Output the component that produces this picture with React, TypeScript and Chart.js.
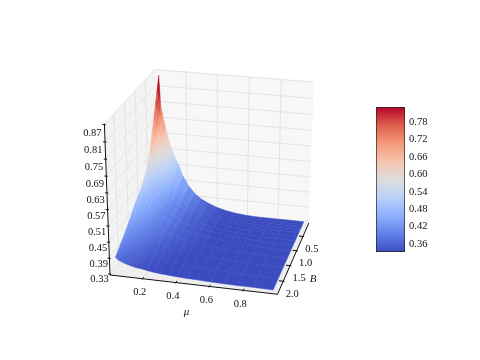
import React, { useEffect, useRef } from "react";
import { Chart, registerables } from "chart.js";

Chart.register(...registerables);

// Axis ticks
const muTicks = [0.2, 0.4, 0.6, 0.8];
const bTicks = [0.5, 1.0, 1.5, 2.0];
const zTicks = [0.33, 0.39, 0.45, 0.51, 0.57, 0.63, 0.69, 0.75, 0.81, 0.87];
const colorbarTicks = [0.36, 0.42, 0.48, 0.54, 0.6, 0.66, 0.72, 0.78];

// Surface samples
const muValues = [0.03, 0.04, 0.05, 0.07, 0.09, 0.105, 0.12, 0.135, 0.15, 0.18, 0.22, 0.26, 0.3, 0.35, 0.4, 0.46, 0.52, 0.6, 0.68, 0.76, 0.85, 0.97];
const bValues = [0.05, 0.15, 0.25, 0.35, 0.45, 0.6, 0.75, 0.9, 1.1, 1.35, 1.65, 2.0, 2.35];
const zRows = [
  [0.854, 0.735, 0.705, 0.65, 0.605, 0.579, 0.555, 0.535, 0.515, 0.47, 0.43, 0.403, 0.385, 0.37, 0.358, 0.348, 0.342, 0.337, 0.335, 0.335, 0.335, 0.335],
  [0.805, 0.703, 0.675, 0.626, 0.585, 0.562, 0.54, 0.522, 0.503, 0.465, 0.429, 0.403, 0.386, 0.372, 0.361, 0.351, 0.345, 0.339, 0.336, 0.336, 0.335, 0.335],
  [0.76, 0.673, 0.647, 0.604, 0.566, 0.545, 0.526, 0.508, 0.491, 0.459, 0.427, 0.403, 0.386, 0.373, 0.363, 0.353, 0.347, 0.341, 0.338, 0.337, 0.336, 0.335],
  [0.712, 0.64, 0.616, 0.578, 0.545, 0.527, 0.509, 0.493, 0.478, 0.451, 0.423, 0.4, 0.385, 0.373, 0.364, 0.354, 0.349, 0.342, 0.338, 0.337, 0.336, 0.335],
  [0.668, 0.609, 0.587, 0.553, 0.524, 0.508, 0.493, 0.479, 0.464, 0.443, 0.418, 0.397, 0.384, 0.372, 0.364, 0.355, 0.35, 0.342, 0.339, 0.338, 0.336, 0.335],
  [0.605, 0.562, 0.543, 0.517, 0.493, 0.481, 0.468, 0.456, 0.444, 0.429, 0.409, 0.391, 0.379, 0.37, 0.363, 0.354, 0.35, 0.343, 0.34, 0.338, 0.337, 0.335],
  [0.56, 0.529, 0.512, 0.491, 0.471, 0.461, 0.45, 0.44, 0.429, 0.419, 0.403, 0.386, 0.376, 0.368, 0.362, 0.354, 0.35, 0.343, 0.34, 0.338, 0.337, 0.335],
  [0.535, 0.511, 0.496, 0.477, 0.459, 0.45, 0.441, 0.432, 0.422, 0.414, 0.4, 0.385, 0.375, 0.368, 0.362, 0.354, 0.351, 0.344, 0.34, 0.338, 0.337, 0.335],
  [0.512, 0.494, 0.48, 0.464, 0.448, 0.44, 0.432, 0.424, 0.415, 0.409, 0.397, 0.383, 0.374, 0.367, 0.362, 0.354, 0.351, 0.344, 0.34, 0.339, 0.337, 0.335],
  [0.49, 0.475, 0.462, 0.448, 0.434, 0.427, 0.42, 0.413, 0.405, 0.4, 0.389, 0.377, 0.369, 0.363, 0.358, 0.352, 0.349, 0.343, 0.34, 0.338, 0.337, 0.335],
  [0.455, 0.443, 0.433, 0.423, 0.412, 0.406, 0.401, 0.395, 0.389, 0.385, 0.377, 0.367, 0.361, 0.357, 0.353, 0.348, 0.346, 0.341, 0.339, 0.337, 0.336, 0.335],
  [0.42, 0.412, 0.405, 0.397, 0.389, 0.386, 0.382, 0.378, 0.373, 0.371, 0.365, 0.358, 0.354, 0.35, 0.348, 0.344, 0.343, 0.339, 0.338, 0.337, 0.336, 0.335],
  [0.39, 0.385, 0.38, 0.375, 0.37, 0.368, 0.365, 0.363, 0.36, 0.358, 0.354, 0.35, 0.347, 0.345, 0.343, 0.341, 0.34, 0.338, 0.337, 0.336, 0.336, 0.335],
];

// Axis limits and colour limits
const muLimits = [0, 1];
const bLimits = [0, 2.4];
const zLimits = [0.327, 0.873];
const colorLimits = [0.3325, 0.832];
const surfaceColorLimits = [0.352, 0.8];

// Coolwarm palette
const palette = [
  [59, 76, 192], [98, 130, 234], [141, 176, 254], [186, 208, 249], [221, 221, 221],
  [245, 196, 173], [244, 152, 122], [222, 96, 77], [180, 4, 38],
];

const SERIF = '"Liberation Serif", serif';
const ELEV = (24 * Math.PI) / 180;
const AZIM = (-76 * Math.PI) / 180;
const DIST = 8;
const SX = 168;
const SY = 160;
const CX = 213.5;
const CY = 176.6;

function project(u: number, v: number, w: number) {
  const X = u - 0.5, Y = 0.5 - v, Z = w - 0.5;
  const ce = Math.cos(ELEV), se = Math.sin(ELEV), ca = Math.cos(AZIM), sa = Math.sin(AZIM);
  const xv = -sa * X + ca * Y;
  const yv = -se * ca * X - se * sa * Y + ce * Z;
  const zv = ce * ca * X + ce * sa * Y + se * Z;
  const f = DIST / (DIST - zv);
  return { x: CX + SX * xv * f, y: CY - SY * yv * f };
}
const U = (mu: number) => (mu - muLimits[0]) / (muLimits[1] - muLimits[0]);
const V = (b: number) => (b - bLimits[0]) / (bLimits[1] - bLimits[0]);
const W = (z: number) => (z - zLimits[0]) / (zLimits[1] - zLimits[0]);

function colorAt(z: number) {
  const t = Math.min(1, Math.max(0, (z - surfaceColorLimits[0]) / (surfaceColorLimits[1] - surfaceColorLimits[0])));
  const p = t * (palette.length - 1);
  const i = Math.min(palette.length - 2, Math.floor(p));
  const k = p - i;
  const c = palette[i].map((a, j) => Math.round(a + (palette[i + 1][j] - a) * k));
  return `rgb(${c[0]},${c[1]},${c[2]})`;
}

const shape = (pts: { x: number; y: number }[], fill: any, stroke: any, width: number) => ({
  type: "line" as const,
  data: [...pts, pts[0]],
  fill: "shape",
  backgroundColor: fill,
  borderColor: stroke,
  borderWidth: width,
  pointRadius: 0,
  tension: 0,
  clip: false,
});
const stroke = (a: { x: number; y: number }, b: { x: number; y: number }, color: string, width: number) => ({
  type: "line" as const,
  data: [a, b],
  fill: false,
  borderColor: color,
  borderWidth: width,
  pointRadius: 0,
  tension: 0,
  clip: false,
});

function buildDatasets(ctx: CanvasRenderingContext2D) {
  const out: any[] = [];
  // panes
  out.push(shape([project(0, 1, 0), project(0, 0, 0), project(0, 0, 1), project(0, 1, 1)], "#f3f3f3", "#f3f3f3", 0));
  out.push(shape([project(0, 0, 0), project(1, 0, 0), project(1, 0, 1), project(0, 0, 1)], "#f7f7f7", "#f7f7f7", 0));
  out.push(shape([project(0, 0, 0), project(1, 0, 0), project(1, 1, 0), project(0, 1, 0)], "#eeeeee", "#eeeeee", 0));
  // grid
  const G = "#e4e4e4";
  for (const m of muTicks) {
    out.push(stroke(project(U(m), 0, 0), project(U(m), 0, 1), G, 1));
    out.push(stroke(project(U(m), 0, 0), project(U(m), 1, 0), G, 1));
  }
  for (const b of bTicks) {
    out.push(stroke(project(0, V(b), 0), project(0, V(b), 1), G, 1));
    out.push(stroke(project(0, V(b), 0), project(1, V(b), 0), G, 1));
  }
  for (const z of zTicks) {
    out.push(stroke(project(0, 1, W(z)), project(0, 0, W(z)), G, 1));
    out.push(stroke(project(0, 0, W(z)), project(1, 0, W(z)), G, 1));
  }
  // surface, far rows first
  for (let r = 0; r < bValues.length - 1; r++) {
    for (let c = 0; c < muValues.length - 1; c++) {
      const a = project(U(muValues[c]), V(bValues[r]), W(zRows[r][c]));
      const b = project(U(muValues[c + 1]), V(bValues[r]), W(zRows[r][c + 1]));
      const d = project(U(muValues[c + 1]), V(bValues[r + 1]), W(zRows[r + 1][c + 1]));
      const e = project(U(muValues[c]), V(bValues[r + 1]), W(zRows[r + 1][c]));
      const g = ctx.createLinearGradient((a.x + b.x) / 2, (a.y + b.y) / 2, (d.x + e.x) / 2, (d.y + e.y) / 2);
      g.addColorStop(0, colorAt((zRows[r][c] + zRows[r][c + 1]) / 2));
      g.addColorStop(1, colorAt((zRows[r + 1][c] + zRows[r + 1][c + 1]) / 2));
      out.push(shape([a, b, d, e], g, g, 0.5));
    }
  }
  // axes
  const K = "#111111";
  out.push(stroke(project(0, 1, 0), project(1, 1, 0), K, 1));
  out.push(stroke(project(1, 1, 0), project(1, 0, 0), K, 1));
  out.push(stroke(project(0, 1, 0), project(0, 1, 1), K, 1));
  for (const m of muTicks) out.push(stroke(project(U(m), 1.012, 0), project(U(m), 0.98, 0), K, 1));
  for (const b of bTicks) out.push(stroke(project(1.008, V(b), 0), project(0.975, V(b), 0), K, 1));
  for (const z of zTicks) out.push(stroke(project(-0.012, 1, W(z)), project(0.008, 1, W(z)), K, 1));
  return out.reverse(); // the first dataset is painted last
}

const textPlugin = {
  id: "axisText",
  afterDatasetsDraw(chart: any) {
    const { ctx } = chart;
    ctx.save();
    ctx.fillStyle = "#111";
    ctx.textAlign = "center";
    ctx.textBaseline = "middle";
    ctx.font = `10.5px ${SERIF}`;
    for (const m of muTicks) {
      const p = project(U(m), 1, 0);
      ctx.fillText(m.toFixed(1), p.x - 3, p.y + 14);
    }
    for (const b of bTicks) {
      const p = project(1, V(b), 0);
      ctx.fillText(b.toFixed(1), p.x + 9, p.y + 12.5);
    }
    for (const z of zTicks) {
      const w = W(z);
      const p = project(0, 1, w);
      ctx.fillText(z.toFixed(2), p.x - 10.5 - 1.5 * w, p.y + 5 + 4 * w);
    }
    ctx.font = `italic 11px ${SERIF}`;
    const mp = project(0.5, 1, 0);
    ctx.fillText("\u03bc", mp.x - 6, mp.y + 28);
    const bp = project(1, 0.5, 0);
    ctx.fillText("B", bp.x + 19, bp.y + 22);
    ctx.restore();
  },
};

export default function App() {
  const mainRef = useRef<HTMLCanvasElement>(null);
  const barRef = useRef<HTMLCanvasElement>(null);

  useEffect(() => {
    const mainCanvas = mainRef.current!;
    const main = new Chart(mainCanvas, {
      type: "line",
      data: { datasets: buildDatasets(mainCanvas.getContext("2d")!) },
      options: {
        animation: false,
        responsive: false,
        parsing: false,
        normalized: true,
        events: [],
        layout: { padding: 0 },
        plugins: { legend: { display: false }, tooltip: { enabled: false } },
        scales: {
          x: { type: "linear", min: 0, max: 480, display: false },
          y: { type: "linear", min: 0, max: 360, reverse: true, display: false },
        },
      } as any,
      plugins: [textPlugin],
    } as any);

    const bar = new Chart(barRef.current!, {
      type: "bar",
      data: {
        labels: ["colorbar"],
        datasets: [
          {
            data: [colorLimits],
            barPercentage: 1,
            categoryPercentage: 1,
            borderWidth: 1,
            borderColor: "#222",
            borderSkipped: false,
            backgroundColor: (c: any) => {
              const area = c.chart.chartArea;
              if (!area) return "#888";
              const g = c.chart.ctx.createLinearGradient(0, area.bottom, 0, area.top);
              palette.forEach((p, i) => g.addColorStop(i / (palette.length - 1), `rgb(${p[0]},${p[1]},${p[2]})`));
              return g;
            },
          },
        ],
      } as any,
      options: {
        animation: false,
        responsive: false,
        events: [],
        layout: { padding: { left: 16, top: 12, bottom: 13, right: 0 } },
        plugins: { legend: { display: false }, tooltip: { enabled: false } },
        scales: {
          x: { display: false },
          y: {
            position: "right",
            min: colorLimits[0],
            max: colorLimits[1],
            border: { display: false },
            afterBuildTicks: (s: any) => {
              s.ticks = colorbarTicks.map((value) => ({ value }));
            },
            afterFit: (s: any) => {
              s.width = 35;
              s.paddingTop = 0;
              s.paddingBottom = 0;
            },
            grid: { drawOnChartArea: false, tickLength: -5, color: "#222" },
            ticks: {
              padding: 9,
              color: "#111",
              font: { family: "Liberation Serif", size: 10.5 },
              callback: (v: any) => Number(v).toFixed(2),
            },
          },
        },
      } as any,
    } as any);

    return () => {
      main.destroy();
      bar.destroy();
    };
  }, []);

  return (
    <div style={{ position: "absolute", left: 0, top: 0, width: 480, height: 360, background: "#fff" }}>
      <canvas ref={mainRef} width={480} height={360} style={{ position: "absolute", left: 0, top: 0 }} />
      <canvas ref={barRef} width={80} height={170} style={{ position: "absolute", left: 360, top: 95 }} />
    </div>
  );
}
